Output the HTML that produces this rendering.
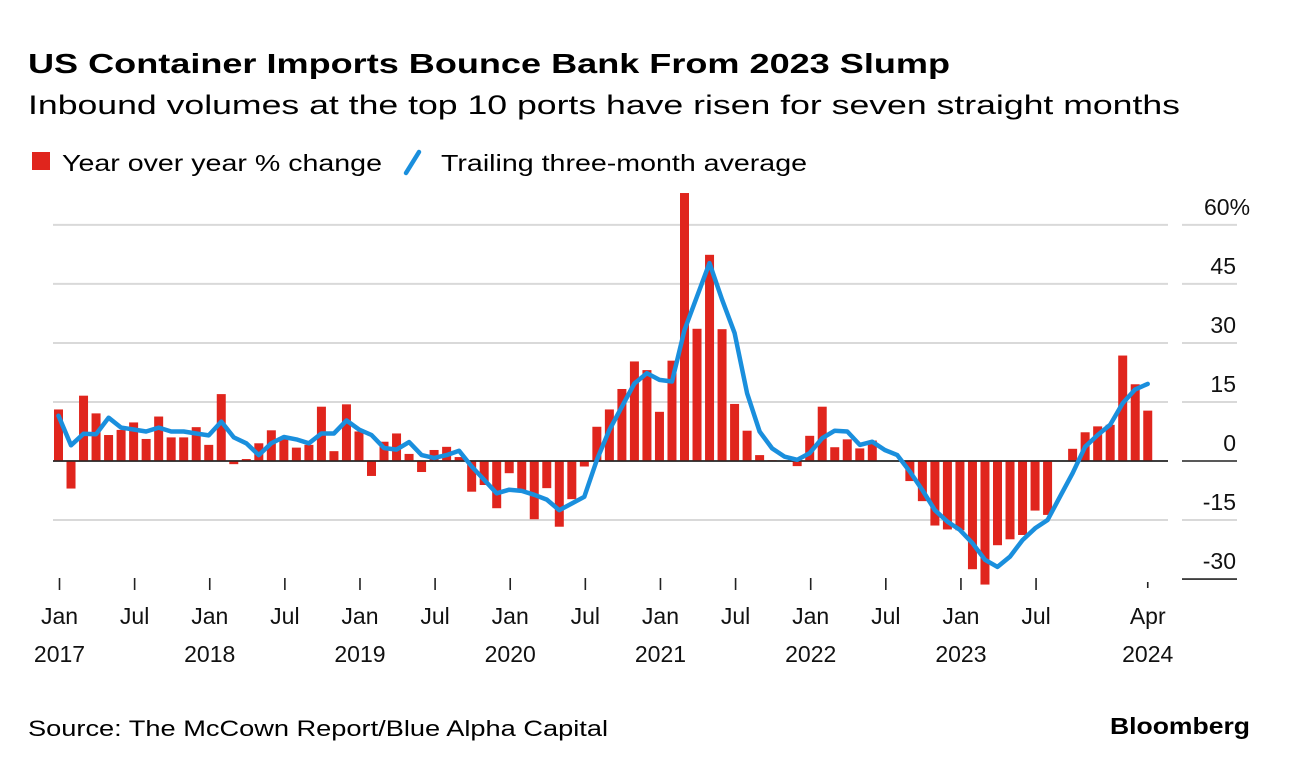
<!DOCTYPE html>
<html><head><meta charset="utf-8">
<style>
html,body{margin:0;padding:0;background:#fff;}
svg{display:block;font-family:"Liberation Sans",Arial,sans-serif;}
</style></head>
<body>
<svg id="chart" width="1289" height="770" viewBox="0 0 1289 770" xmlns="http://www.w3.org/2000/svg">
<text x="28" y="73" font-size="28" font-weight="bold" fill="#000" textLength="922" lengthAdjust="spacingAndGlyphs">US Container Imports Bounce Bank From 2023 Slump</text>
<text x="28" y="114" font-size="27" fill="#000" textLength="1152" lengthAdjust="spacingAndGlyphs">Inbound volumes at the top 10 ports have risen for seven straight months</text>
<g>
<rect x="32" y="152" width="18" height="18" fill="#e0251d"/>
<text x="62" y="171" font-size="23" fill="#000" textLength="320" lengthAdjust="spacingAndGlyphs">Year over year % change</text>
<line x1="406" y1="173" x2="419" y2="152" stroke="#1a8fdd" stroke-width="4.5" stroke-linecap="round"/>
<text x="441" y="171" font-size="23" fill="#000" textLength="366" lengthAdjust="spacingAndGlyphs">Trailing three-month average</text>
</g>
<g id="grid"></g>
<g id="bars"></g>
<g id="line"></g>
<g id="xaxis"></g>
<text x="28" y="736" font-size="22" fill="#000" textLength="580" lengthAdjust="spacingAndGlyphs">Source: The McCown Report/Blue Alpha Capital</text>
<text x="1250" y="734" font-size="23" font-weight="bold" fill="#000" text-anchor="end" textLength="140" lengthAdjust="spacingAndGlyphs">Bloomberg</text>
</svg>
<script>
const yoyValues = [13.1,-7.0,16.6,12.1,6.6,7.9,9.8,5.6,11.3,6.0,6.0,8.6,4.1,17.0,-0.8,0.5,4.5,7.8,6.0,3.4,4.1,13.8,2.5,14.4,7.5,-3.8,4.9,7.0,1.8,-2.8,2.8,3.6,1.0,-7.8,-6.1,-12.0,-3.1,-7.4,-14.8,-6.9,-16.7,-9.7,-1.4,8.7,13.1,18.3,25.3,23.1,12.5,25.5,68.1,33.6,52.4,33.5,14.5,7.7,1.5,0.2,0.1,-1.3,6.4,13.8,3.5,5.5,3.2,5.2,0.1,0.1,-5.1,-10.2,-16.4,-17.4,-17.6,-27.5,-31.4,-21.4,-19.9,-18.8,-12.6,-13.7,0.1,3.1,7.3,8.8,9.2,26.8,19.5,12.8];
const avgValues = [11.5,4.0,6.9,6.8,11.0,8.5,8.0,7.5,8.5,7.5,7.5,7.0,6.5,10.0,6.0,4.5,1.5,4.5,6.1,5.5,4.5,7.0,7.0,10.3,8.0,6.6,3.3,2.9,4.8,1.5,0.8,1.5,2.6,-1.4,-4.8,-8.2,-7.3,-7.6,-8.6,-9.8,-12.5,-10.8,-9.1,0.3,7.9,13.8,19.7,22.3,20.6,20.2,33.3,41.8,50.3,41.0,32.5,17.2,7.5,3.2,1.1,0.3,2.0,5.8,7.7,7.5,4.1,4.9,2.8,1.5,-2.7,-7.4,-12.5,-15.4,-17.5,-20.9,-25.1,-26.9,-24.3,-20.1,-17.1,-15.0,-9.0,-3.1,3.6,6.6,9.2,14.7,18.2,19.6];
const yTicks = [60,45,30,15,0,-15,-30];
const yTickLabels = ["60%","45","30","15","0","-15","-30"];
const xTickIndex = [0,6,12,18,24,30,36,42,48,54,60,66,72,78,87];
const xTickMonth = ["Jan","Jul","Jan","Jul","Jan","Jul","Jan","Jul","Jan","Jul","Jan","Jul","Jan","Jul","Apr"];
const xTickYear = ["2017","","2018","","2019","","2020","","2021","","2022","","2023","","2024"];

const NS="http://www.w3.org/2000/svg";
const X0=58.5, STEP=12.52, Y0=461, YS=3.935;
const xs=i=>X0+i*STEP;
const ys=v=>Y0-v*YS;
function mk(tag,attrs,parent){const e=document.createElementNS(NS,tag);for(const k in attrs)e.setAttribute(k,attrs[k]);parent.appendChild(e);return e;}

const grid=document.getElementById('grid');
yTicks.forEach((t,k)=>{
  const y=ys(t);
  const dark=(t===0||t===-30);
  const gl=mk('line',{x1:53,x2:1168,y1:y,y2:y,stroke:dark?'#222':'#d9d9d9','stroke-width':dark?1.6:2},grid);
  
  
  if(t===-30){gl.setAttribute('stroke','none');}
  const seg=mk('line',{x1:1182,x2:1237,y1:y,y2:y,stroke:dark?'#222':'#d9d9d9','stroke-width':dark?1.6:2},grid);
  
  
  const tx=mk('text',{x:1236,y:y-10,'font-size':23,'text-anchor':'end',fill:'#111'},grid);
  
  
  if(t===60){tx.setAttribute('text-anchor','start');tx.setAttribute('x',1204);}
  tx.textContent=yTickLabels[k];
});

const bars=document.getElementById('bars');
yoyValues.forEach((v,i)=>{
  const y=Math.min(ys(v),Y0), h=Math.abs(ys(v)-Y0);
  const r=mk('rect',{x:xs(i)-4.5,y:y,width:9,height:Math.max(h,0.5),fill:'#e0251d'},bars);
  
  
});
// redraw zero line over bars
const zl=mk('line',{x1:53,x2:1168,y1:Y0,y2:Y0,stroke:'#222','stroke-width':1.6},bars);



const lg=document.getElementById('line');
const pts=avgValues.map((v,i)=>xs(i).toFixed(1)+','+ys(v).toFixed(1)).join(' ');
const pl=mk('polyline',{points:pts,fill:'none',stroke:'#1a8fdd','stroke-width':4.5,'stroke-linejoin':'round','stroke-linecap':'round'},lg);



const xa=document.getElementById('xaxis');
xTickIndex.forEach((idx,k)=>{
  const x=xs(idx)+(k===14?0:1);
  const last=k===14;
  const tk=mk('line',{x1:x,x2:x,y1:last?582:578,y2:last?588:590,stroke:'#222','stroke-width':1.6},xa);
  
  
  const m=mk('text',{x:x,y:624,'font-size':23,'text-anchor':'middle',fill:'#111'},xa);
  
  
  m.textContent=xTickMonth[k];
  if(xTickYear[k]){
    const yr=mk('text',{x:x,y:662,'font-size':23,'text-anchor':'middle',fill:'#111'},xa);
    
    
    yr.textContent=xTickYear[k];
  }
});
</script>
</body></html>
